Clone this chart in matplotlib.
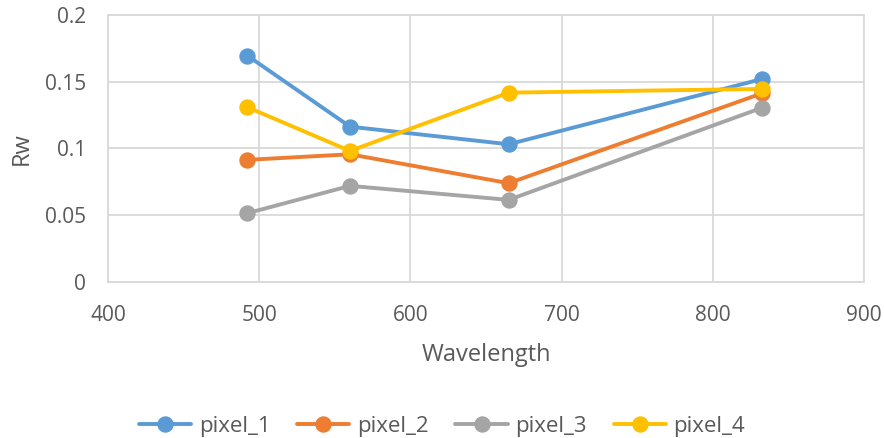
import matplotlib.pyplot as plt

wavelength = [492, 560, 665, 833]
pixel_1 = [0.1695, 0.1162, 0.1030, 0.1520]
pixel_2 = [0.0913, 0.0955, 0.0738, 0.1413]
pixel_3 = [0.0513, 0.0718, 0.0613, 0.1305]
pixel_4 = [0.1308, 0.0980, 0.1417, 0.1445]

series = [
    ("pixel_1", pixel_1, "#5B9BD5"),
    ("pixel_2", pixel_2, "#ED7D31"),
    ("pixel_3", pixel_3, "#A5A5A5"),
    ("pixel_4", pixel_4, "#FFC000"),
]

plt.rcParams["font.family"] = ["Open Sans", "DejaVu Sans"]
text_color = "#595959"
grid_color = "#D9D9D9"

fig = plt.figure(figsize=(8.84, 4.38), dpi=100)
ax = fig.add_axes([0.1225, 0.357, 0.8545, 0.609])

for name, vals, col in series:
    ax.plot(wavelength, vals, color=col, linewidth=2.8, marker="o",
            markersize=10.8, label=name, solid_capstyle="round")

ax.set_xlim(400, 900)
ax.set_ylim(0, 0.2)
ax.set_xticks([400, 500, 600, 700, 800, 900])
ax.set_yticks([0, 0.05, 0.1, 0.15, 0.2])
ax.set_yticklabels(["0", "0.05", "0.1", "0.15", "0.2"])
ax.grid(True, color=grid_color, linewidth=1.3)
ax.set_axisbelow(True)
for s in ax.spines.values():
    s.set_color(grid_color)
    s.set_linewidth(1.3)
ax.tick_params(length=0, labelsize=15, labelcolor=text_color, pad=16)
ax.tick_params(axis="x", pad=17)

ax.set_xlabel("Wavelength", fontsize=17, color=text_color, labelpad=12)
ax.set_ylabel("Rw", fontsize=17, color=text_color, labelpad=8)

fig.legend(loc="center", bbox_to_anchor=(0.5, 0.026), ncol=4, frameon=False,
           fontsize=16, labelcolor=text_color, handlelength=2.35,
           columnspacing=1.2, handletextpad=0.35, borderpad=0.2)

fig.savefig("out.png", dpi=100)
